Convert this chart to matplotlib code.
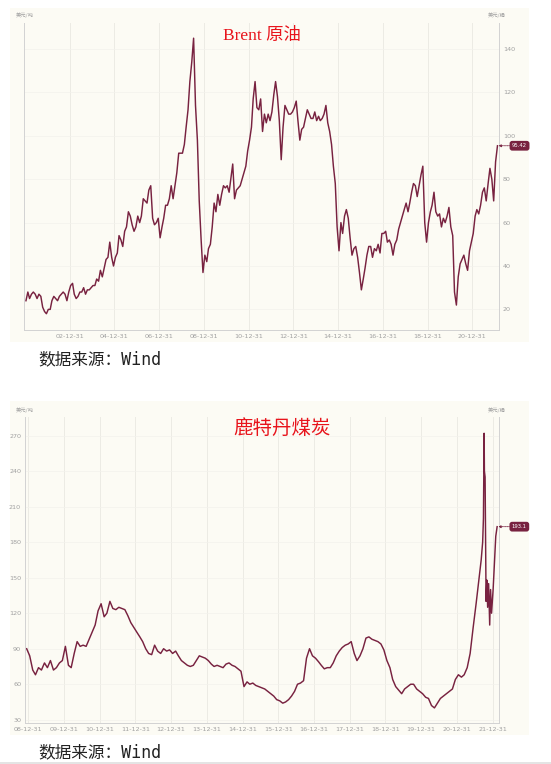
import matplotlib
matplotlib.use("Agg")
import matplotlib.pyplot as plt
import matplotlib.dates as mdates
from matplotlib.patches import Rectangle
import pandas as pd

# Brent monthly prices, USD/bbl, 2001-01 .. 2022-02
brent_values = [
    24, 28, 25, 27, 28, 27, 25, 27, 26, 21, 19, 18,            # 2001
    20, 20, 24, 26, 25, 24, 26, 27, 28, 27, 24, 28,            # 2002
    31, 32, 27, 25, 26, 28, 28, 30, 27, 29, 29, 30,            # 2003
    31, 31, 34, 33, 38, 35, 39, 43, 44, 51, 44, 40,            # 2004
    44, 46, 54, 52, 49, 56, 58, 65, 63, 59, 56, 58,            # 2005
    63, 60, 63, 71, 70, 69, 75, 77, 62, 59, 60, 62,            # 2006
    53, 58, 62, 68, 68, 71, 77, 71, 77, 83, 92, 92,            # 2007
    92, 96, 104, 112, 125, 134, 145, 114, 98, 70, 52, 37,      # 2008
    45, 42, 48, 50, 58, 69, 65, 73, 68, 73, 77, 76,            # 2009
    77, 74, 80, 87, 71, 75, 76, 77, 80, 83, 86, 93,            # 2010
    98, 104, 117, 125, 113, 112, 117, 102, 110, 106, 110, 107, # 2011
    111, 119, 125, 118, 107, 89, 104, 114, 112, 110, 110, 111, # 2012
    113, 116, 107, 98, 103, 104, 108, 112, 110, 108, 108, 111, # 2013
    107, 109, 107, 108, 110, 114, 106, 102, 96, 86, 78, 58,    # 2014
    47, 60, 55, 63, 66, 62, 53, 45, 48, 49, 44, 37,            # 2015
    29, 34, 39, 45, 49, 49, 44, 48, 47, 50, 46, 55,            # 2016
    55, 56, 51, 52, 50, 45, 50, 52, 57, 60, 63, 66,            # 2017
    69, 65, 69, 74, 78, 77, 72, 77, 82, 86, 60, 51,            # 2018
    60, 65, 68, 74, 65, 63, 64, 58, 62, 60, 63, 67,            # 2019
    58, 54, 28, 22, 35, 41, 43, 45, 41, 38, 47, 51,            # 2020
    55, 63, 66, 64, 68, 74, 76, 70, 78, 85, 80, 70,            # 2021
    88, 95.42,                                                 # 2022
]
brent_dates = pd.date_range("2001-01-01", periods=len(brent_values), freq="MS") + pd.Timedelta(days=14)

# Rotterdam coal monthly prices, USD/t, 2008-12 .. 2021-08
coal_monthly = [
    90,                                                        # 2008-12
    84, 72, 68, 74, 72, 78, 74, 80, 72, 74, 78, 80,            # 2009
    92, 76, 74, 86, 96, 92, 93, 92, 98, 104, 110, 122,         # 2010
    128, 117, 120, 130, 124, 123, 125, 124, 123, 118, 112, 108, # 2011
    104, 100, 96, 90, 86, 85, 93, 88, 86, 90, 88, 89,          # 2012
    86, 88, 84, 80, 78, 76, 75, 76, 80, 84, 83, 82,            # 2013
    80, 77, 75, 76, 75, 74, 77, 78, 76, 75, 73, 71,            # 2014
    58, 62, 60, 61, 59, 58, 57, 56, 54, 52, 50, 47,            # 2015
    46, 44, 45, 47, 50, 54, 60, 61, 63, 82, 90, 84,            # 2016
    82, 79, 76, 73, 74, 74, 78, 84, 88, 91, 93, 94,            # 2017
    96, 86, 80, 84, 90, 99, 100, 98, 97, 96, 94, 89,           # 2018
    80, 74, 64, 58, 55, 52, 56, 58, 60, 60, 56, 54,            # 2019
    52, 49, 48, 42, 40, 44, 48, 50, 52, 54, 56, 64,            # 2020
    68, 66, 68, 74, 86, 108, 128, 150,                         # 2021-01 .. 08
]
coal_monthly_dates = pd.date_range("2008-12-01", periods=len(coal_monthly), freq="MS") + pd.Timedelta(days=14)

# late 2021 spike, read at finer steps
coal_recent_dates = ["2021-09-05", "2021-09-20", "2021-09-28", "2021-10-05", "2021-10-08",
                     "2021-10-15", "2021-10-25", "2021-11-02", "2021-11-10", "2021-11-20",
                     "2021-12-01", "2021-12-10", "2021-12-20", "2022-01-05", "2022-01-20",
                     "2022-02-01", "2022-02-10", "2022-02-15"]
coal_recent = [165, 180, 200, 272, 240, 235, 130, 148, 125, 145,
               110, 140, 120, 140, 165, 185, 190, 193.1]

coal_dates = list(coal_monthly_dates) + list(pd.to_datetime(coal_recent_dates))
coal_values = coal_monthly + coal_recent

brent_ticks = pd.to_datetime([f"{y}-12-31" for y in range(2002, 2021, 2)])
coal_ticks = pd.to_datetime([f"{y}-12-31" for y in range(2008, 2022)])
brent_yticks = [20, 40, 60, 80, 100, 120, 140]
coal_yticks = [30, 60, 90, 120, 150, 180, 210, 240, 270]

LINE = "#782240"
PANEL = "#fcfbf4"
GRID = "#ecebe4"
TICK = "#a0a0a0"
RED = "#e8141c"
CJK = ["Noto Sans CJK SC", "DejaVu Sans"]

fig = plt.figure(figsize=(5.51, 7.64), dpi=100)
W, H = 551, 764


def fx(px):
    return px / W


def fy(py):
    return 1 - py / H


# cream panels, drawn below the axes
for top in [8, 401]:
    fig.patches.append(Rectangle((fx(10), fy(top + 334)), fx(519), 334 / H, transform=fig.transFigure,
                                 facecolor=PANEL, edgecolor="none", zorder=-5))
fig.patches.append(Rectangle((0, 0), 1, 2.5 / H, transform=fig.transFigure,
                             facecolor="#e4e4e4", edgecolor="none", zorder=-5))


def style_axes(ax, ticks, yticks, ylim, xlim):
    ax.set_facecolor(PANEL)
    ax.set_xlim(pd.Timestamp(xlim[0]), pd.Timestamp(xlim[1]))
    ax.set_ylim(*ylim)
    ax.set_xticks(ticks)
    ax.xaxis.set_major_formatter(mdates.DateFormatter("%y-%m-%d"))
    ax.set_yticks(yticks)
    ax.tick_params(length=0, labelsize=4.6, labelcolor=TICK, pad=3)
    ax.grid(True, axis="x", color=GRID, linewidth=0.7)
    ax.grid(True, axis="y", color="#f3f2ec", linewidth=0.5)
    ax.set_axisbelow(True)
    for side in ["left", "bottom", "right"]:
        ax.spines[side].set_color("#d2d2d2")
        ax.spines[side].set_linewidth(0.7)
    ax.spines["top"].set_visible(False)


def end_label(ax, value, text):
    ax.annotate(text, xy=(1.0, value), xycoords=("axes fraction", "data"),
                xytext=(15, 0), textcoords="offset points",
                fontsize=3.8, color="white", ha="center", va="center",
                bbox=dict(boxstyle="round,pad=0.45,rounding_size=0.5", fc=LINE, ec="none"),
                arrowprops=dict(arrowstyle="-|>,head_length=0.35,head_width=0.2", color=LINE,
                                linestyle=(0, (1, 1)), linewidth=0.6, shrinkA=0, shrinkB=0),
                annotation_clip=False)


# Brent
ax1 = fig.add_axes([fx(24), fy(330), fx(474.7), 307 / H])
ax1.plot(brent_dates, brent_values, color=LINE, linewidth=1.05)
style_axes(ax1, brent_ticks, brent_yticks, (10.5, 152), ("2000-12-14", "2022-03-07"))
ax1.yaxis.tick_right()
end_label(ax1, brent_values[-1], f"{brent_values[-1]:.2f}")

fig.text(fx(261.5), fy(36), "Brent 原油", color=RED, fontsize=12.5,
         family=["Liberation Serif", "Noto Sans CJK SC"], ha="center", va="center")
fig.text(fx(16), fy(15), "美元/吨", color=TICK, fontsize=3.8, family=CJK, va="center")
fig.text(fx(506), fy(15), "美元/桶", color=TICK, fontsize=3.8, family=CJK, va="center", ha="right")
fig.text(fx(38), fy(359), "数据来源：Wind", color="#222222", fontsize=12,
         family=["DejaVu Sans Mono", "Noto Sans CJK SC"], va="center")

# Rotterdam coal
ax2 = fig.add_axes([fx(25.3), fy(723.3), fx(473.2), 306.6 / H])
ax2.plot(coal_dates, coal_values, color=LINE, linewidth=1.05)
style_axes(ax2, coal_ticks, coal_yticks, (27, 286), ("2008-12-01", "2022-03-01"))
end_label(ax2, coal_values[-1], f"{coal_values[-1]:.1f}")

fig.text(fx(282), fy(428), "鹿特丹煤炭", color=RED, fontsize=14, family=CJK,
         ha="center", va="center")
fig.text(fx(16), fy(410), "美元/吨", color=TICK, fontsize=3.8, family=CJK, va="center")
fig.text(fx(506), fy(410), "美元/桶", color=TICK, fontsize=3.8, family=CJK, va="center", ha="right")
fig.text(fx(38), fy(752), "数据来源：Wind", color="#222222", fontsize=12,
         family=["DejaVu Sans Mono", "Noto Sans CJK SC"], va="center")

fig.savefig("out.png", dpi=100, facecolor="white")
